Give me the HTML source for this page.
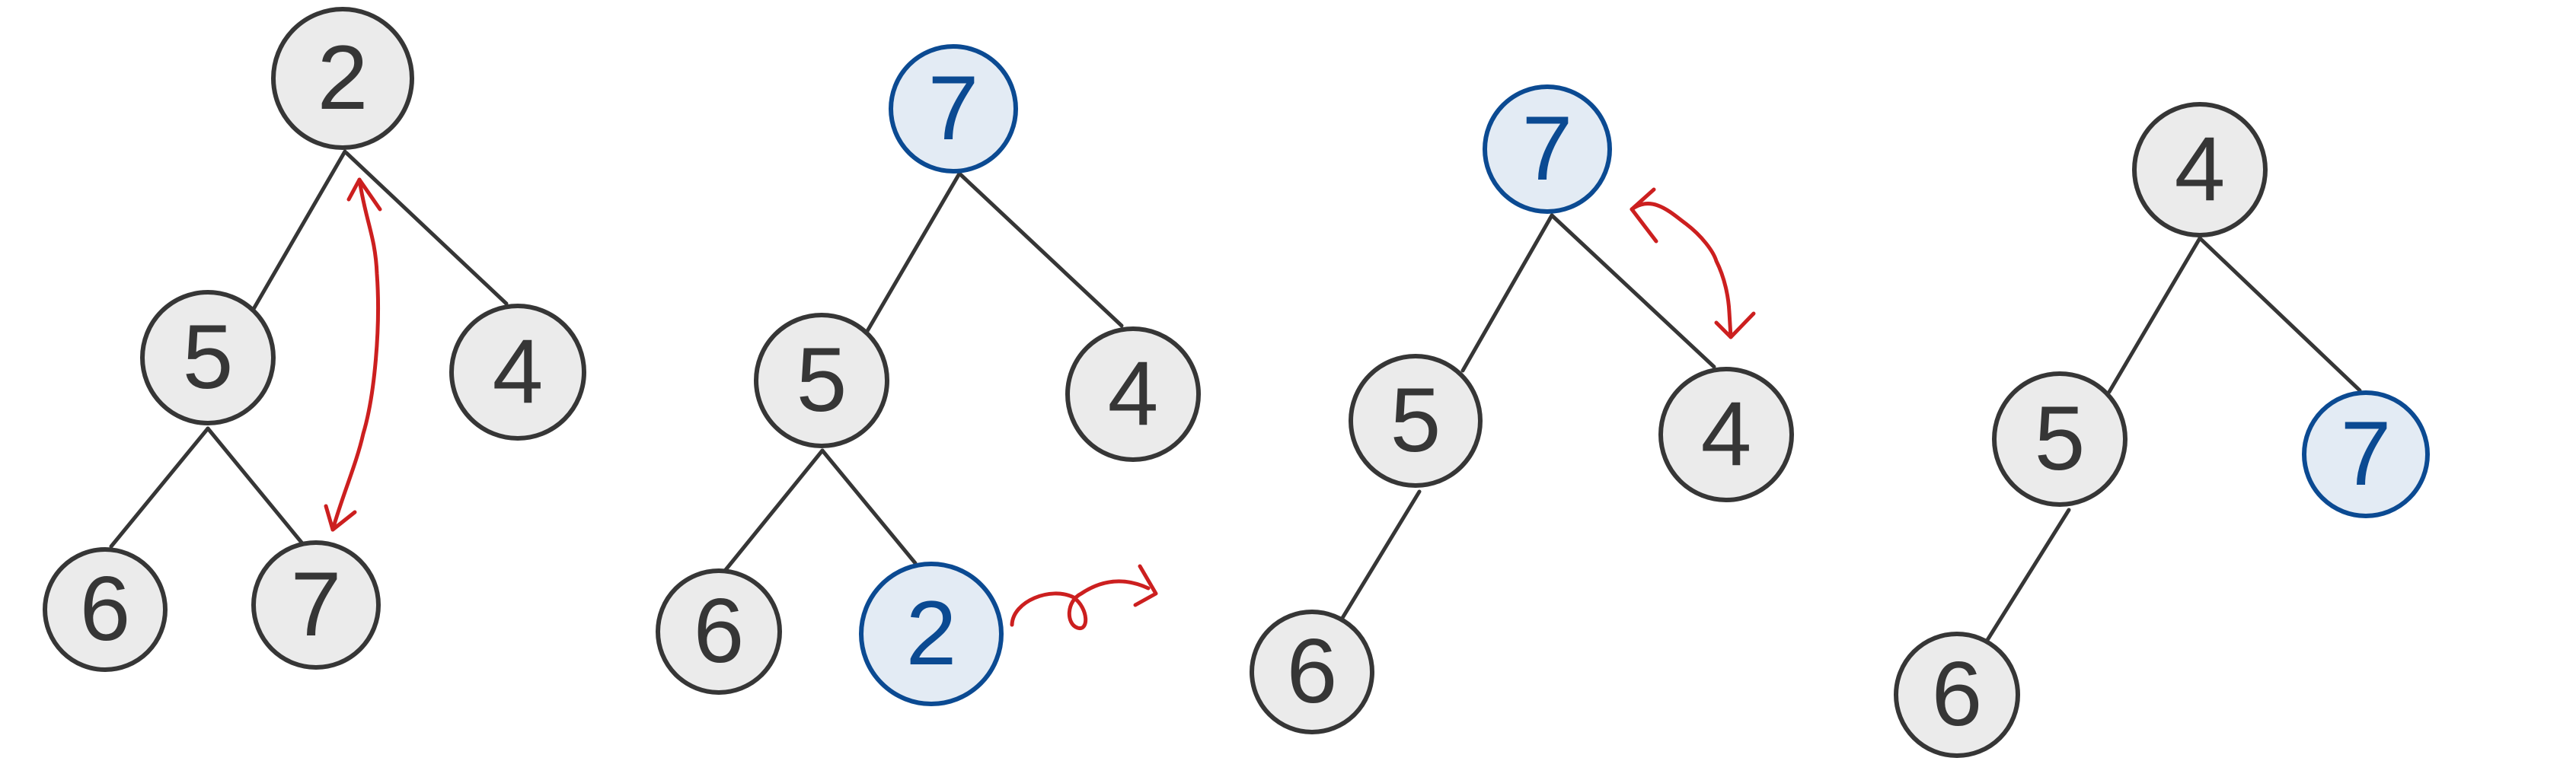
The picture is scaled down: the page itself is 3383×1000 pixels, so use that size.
<!DOCTYPE html>
<html><head><meta charset="utf-8"><style>html,body{margin:0;padding:0;background:#fff}svg{display:block}</style></head>
<body>
<svg width="3383" height="1000" viewBox="0 0 3383 1000" xmlns="http://www.w3.org/2000/svg">
<g stroke="#363636" stroke-width="5" fill="none" stroke-linecap="round">
<line x1="453" y1="199" x2="333" y2="406"/><line x1="455" y1="201" x2="665" y2="399"/>
<line x1="273" y1="563" x2="146" y2="718"/><line x1="273" y1="563" x2="397" y2="714"/>
<line x1="1260" y1="228" x2="1139" y2="435"/><line x1="1260" y1="228" x2="1473" y2="428"/>
<line x1="1080" y1="592" x2="952" y2="750"/><line x1="1080" y1="592" x2="1202" y2="740"/>
<line x1="2038" y1="283" x2="1921" y2="487"/><line x1="2038" y1="283" x2="2251" y2="482"/>
<line x1="1864" y1="646" x2="1763" y2="812"/>
<line x1="2889" y1="313" x2="2770" y2="515"/><line x1="2889" y1="313" x2="3099" y2="513"/>
<line x1="2717" y1="670" x2="2610" y2="841"/>
</g>
<g stroke="#cc1f1f" stroke-width="5" fill="none" stroke-linecap="round" stroke-linejoin="round">
<path d="M472 236 C480 290 493 310 495 360 C500 430 492 520 477 570 C468 610 450 650 437 696"/>
<path d="M458 262 L472 236 L499 275"/><path d="M428 665 L437 696 L466 673"/>
<path d="M1329 821 C1330 790 1380 770 1410 785 C1430 800 1430 830 1415 825 C1400 820 1400 790 1420 780 C1450 760 1480 760 1508 773"/>
<path d="M1497 744 L1518 780 L1491 795"/>
<path d="M2143 275 C2170 255 2195 280 2214 294 C2235 310 2250 330 2254 343 C2265 365 2270 390 2271 410 L2273 443"/>
<path d="M2172 249 L2143 275 L2175 317"/><path d="M2254 424 L2273 443 L2303 412"/>
</g>
<g stroke-width="6" font-family="Liberation Sans, sans-serif" font-size="120" text-anchor="middle">
<g fill="#ebebeb" stroke="#363636">
<circle cx="450" cy="103" r="91"/><circle cx="273" cy="470" r="86"/><circle cx="680" cy="489" r="87"/>
<circle cx="138" cy="801" r="79"/><circle cx="415" cy="795" r="82"/>
<circle cx="1079" cy="500" r="86"/><circle cx="1488" cy="518" r="86"/><circle cx="944" cy="830" r="80"/>
<circle cx="1859" cy="553" r="85"/><circle cx="2267" cy="571" r="86"/><circle cx="1723" cy="883" r="79"/>
<circle cx="2889" cy="223" r="86"/><circle cx="2705" cy="577" r="86"/><circle cx="2570" cy="913" r="80"/>
</g>
<g fill="#e3ebf4" stroke="#0b4a92">
<circle cx="1252" cy="143" r="82"/><circle cx="1223" cy="833" r="92"/>
<circle cx="2032" cy="196" r="82"/><circle cx="3107" cy="597" r="81"/>
</g>
<g fill="#363636" stroke="none">
<text x="450" y="143">2</text><text x="273" y="510">5</text><text x="680" y="529">4</text>
<text x="138" y="841">6</text><text x="415" y="835">7</text>
<text x="1079" y="540">5</text><text x="1488" y="558">4</text><text x="944" y="870">6</text>
<text x="1859" y="593">5</text><text x="2267" y="611">4</text><text x="1723" y="923">6</text>
<text x="2889" y="263">4</text><text x="2705" y="617">5</text><text x="2570" y="953">6</text>
</g>
<g fill="#0b4a92" stroke="none">
<text x="1252" y="183">7</text><text x="1223" y="873">2</text><text x="2032" y="236">7</text><text x="3107" y="637">7</text>
</g>
</g>
</svg>
</body></html>
